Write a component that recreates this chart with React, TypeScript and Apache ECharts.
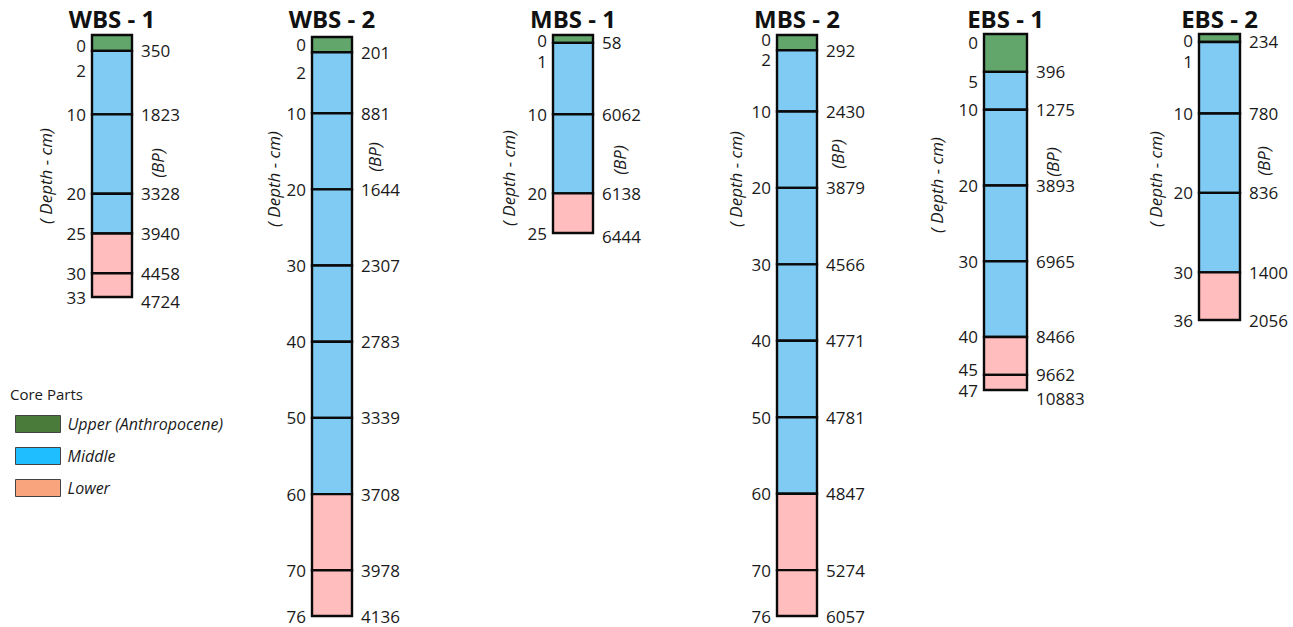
import React, { useEffect, useRef } from "react";
import * as echarts from "echarts";

// ---------------- DATA ----------------
const coreNames = ["WBS - 1", "WBS - 2", "MBS - 1", "MBS - 2", "EBS - 1", "EBS - 2"];
const partNames = ["Upper (Anthropocene)", "Middle", "Lower"];

const wbs1Depths = [0, 2, 10, 20, 25, 30, 33];
const wbs1Ages = [350, 1823, 3328, 3940, 4458, 4724];
const wbs1PartEnds = [2, 25];

const wbs2Depths = [0, 2, 10, 20, 30, 40, 50, 60, 70, 76];
const wbs2Ages = [201, 881, 1644, 2307, 2783, 3339, 3708, 3978, 4136];
const wbs2PartEnds = [2, 60];

const mbs1Depths = [0, 1, 10, 20, 25];
const mbs1Ages = [58, 6062, 6138, 6444];
const mbs1PartEnds = [1, 20];

const mbs2Depths = [0, 2, 10, 20, 30, 40, 50, 60, 70, 76];
const mbs2Ages = [292, 2430, 3879, 4566, 4771, 4781, 4847, 5274, 6057];
const mbs2PartEnds = [2, 60];

const ebs1Depths = [0, 5, 10, 20, 30, 40, 45, 47];
const ebs1Ages = [396, 1275, 3893, 6965, 8466, 9662, 10883];
const ebs1PartEnds = [5, 40];

const ebs2Depths = [0, 1, 10, 20, 30, 36];
const ebs2Ages = [234, 780, 836, 1400, 2056];
const ebs2PartEnds = [1, 30];

const depthAxisName = "( Depth - cm)";
const ageAxisName = "(BP)";
const legendTitle = "Core Parts";

// ---------------- LAYOUT / STYLE ----------------
const coreDepths = [wbs1Depths, wbs2Depths, mbs1Depths, mbs2Depths, ebs1Depths, ebs2Depths];
const coreAges = [wbs1Ages, wbs2Ages, mbs1Ages, mbs2Ages, ebs1Ages, ebs2Ages];
const corePartEnds = [wbs1PartEnds, wbs2PartEnds, mbs1PartEnds, mbs2PartEnds, ebs1PartEnds, ebs2PartEnds];

// left x, width, top y, bottom y of each column
const gridBoxes = [
  [92, 40, 35, 297],
  [312, 40, 37, 616],
  [553, 40, 35, 233],
  [777, 40, 35, 616],
  [984, 43, 34, 390],
  [1199, 41, 34, 320],
];
// vertical nudges (px, + = down) of individual depth labels (left) and age labels (right)
const leftNudges = [
  [10, 20],
  [7, 20],
  [5, 19],
  [4, 9],
  [8, 10, 0, 0, 0, 0, -5, 0],
  [6, 20],
];
const rightNudges = [
  [0, 0, 0, 0, 0, 4],
  [],
  [0, 0, 0, 3],
  [],
  [0, 0, 0, 0, 0, 0, 8],
  [],
];
const depthNamePos = [
  [45, 176], [273, 179], [508, 178], [735, 179], [936, 185], [1155, 179],
];
const ageNamePos = [
  [157, 163], [374, 157], [619, 160], [837, 154], [1052, 162], [1263, 161],
];

const barColors = ["#62A66B", "#80CBF4", "#FFBEBD"];
const legendColors = ["#4B7B3A", "#1FBFFF", "#F9A47C"];
const FONT = '"Open Sans", "Liberation Sans", sans-serif';
const TEXT = "#1a1a1a";

function nudgeRich(nudges: number[]) {
  const rich: any = {};
  nudges.forEach((s, i) => {
    if (!s) return;
    rich["n" + i] = {
      fontSize: 17,
      fontFamily: FONT,
      color: TEXT,
      padding: s > 0 ? [2 * s, 0, 0, 0] : [0, 0, -2 * s, 0],
    };
  });
  return rich;
}
function wrapNudge(nudges: number[], i: number, text: string) {
  return nudges[i] ? `{n${i}|${text}}` : text;
}

function buildOption() {
  const grid: any[] = [];
  const xAxis: any[] = [];
  const yAxis: any[] = [];
  const series: any[] = [];
  const title: any[] = [];
  const graphic: any[] = [];

  coreNames.forEach((name, c) => {
    const [left, width, top, bottom] = gridBoxes[c];
    const depths = coreDepths[c];
    const ages = coreAges[c];
    const [upEnd, midEnd] = corePartEnds[c];
    const maxDepth = depths[depths.length - 1];
    const ln = leftNudges[c];
    const rn = rightNudges[c];

    grid.push({ left, top, width, height: bottom - top, containLabel: false, outerBoundsMode: "none" });
    xAxis.push({ type: "value", gridIndex: c, min: 0, max: 1, show: false });

    const common = {
      type: "value",
      gridIndex: c,
      inverse: true,
      min: 0,
      max: maxDepth,
      axisLine: { show: false },
      axisTick: { show: false },
      splitLine: { show: false },
    };
    yAxis.push({
      ...common,
      position: "left",
      axisLabel: {
        customValues: depths,
        showMinLabel: true,
        showMaxLabel: true,
        hideOverlap: false,
        margin: 6,
        fontSize: 17,
        fontFamily: FONT,
        color: TEXT,
        formatter: (v: number) => {
          const i = depths.indexOf(v);
          return wrapNudge(ln, i, String(v));
        },
        rich: nudgeRich(ln),
      },
    });
    yAxis.push({
      ...common,
      position: "right",
      axisLabel: {
        customValues: depths.slice(1),
        showMinLabel: true,
        showMaxLabel: true,
        hideOverlap: false,
        margin: 9,
        fontSize: 17,
        fontFamily: FONT,
        color: TEXT,
        formatter: (v: number) => {
          const i = depths.indexOf(v);
          if (i <= 0) return "";
          return wrapNudge(rn, i - 1, String(ages[i - 1]));
        },
        rich: nudgeRich(rn),
      },
    });

    const segs: number[][][] = [[], [], []];
    for (let i = 0; i < depths.length - 1; i++) {
      const t = depths[i];
      const b = depths[i + 1];
      const p = b <= upEnd ? 0 : b <= midEnd ? 1 : 2;
      segs[p].push([0, t, b]);
    }
    partNames.forEach((pn, p) => {
      series.push({
        type: "custom",
        name: pn,
        xAxisIndex: c,
        yAxisIndex: 2 * c,
        itemStyle: { color: barColors[p] },
        encode: { x: 0, y: [1, 2] },
        data: segs[p],
        renderItem: (params: any, api: any) => {
          const p0 = api.coord([0, api.value(1)]);
          const p1 = api.coord([1, api.value(2)]);
          return {
            type: "rect",
            shape: { x: p0[0], y: p0[1], width: p1[0] - p0[0], height: p1[1] - p0[1] },
            style: { fill: barColors[p], stroke: "#0a0a0a", lineWidth: 2.4 },
          };
        },
      });
    });

    title.push({
      text: name,
      left: left + width / 2,
      top: 6,
      padding: 0,
      textAlign: "center",
      textStyle: { fontSize: 24, lineHeight: 24, fontWeight: "bold", fontFamily: FONT, color: "#111" },
    });

    graphic.push({
      type: "text",
      x: depthNamePos[c][0],
      y: depthNamePos[c][1],
      rotation: Math.PI / 2,
      style: {
        text: depthAxisName,
        fill: TEXT,
        font: `italic 17px ${FONT}`,
        textAlign: "center",
        textVerticalAlign: "middle",
        align: "center",
        verticalAlign: "middle",
      },
    });
    graphic.push({
      type: "text",
      x: ageNamePos[c][0],
      y: ageNamePos[c][1],
      rotation: Math.PI / 2,
      style: {
        text: ageAxisName,
        fill: TEXT,
        font: `italic 17px ${FONT}`,
        textAlign: "center",
        textVerticalAlign: "middle",
        align: "center",
        verticalAlign: "middle",
      },
    });
  });

  graphic.push({
    type: "text",
    left: 10,
    top: 386,
    style: { text: legendTitle, fill: TEXT, font: `15px ${FONT}` },
  });

  return {
    animation: false,
    backgroundColor: "#ffffff",
    title,
    grid,
    xAxis,
    yAxis,
    series,
    graphic,
    legend: {
      orient: "vertical",
      left: 10,
      top: 410,
      itemWidth: 45,
      itemHeight: 17,
      itemGap: 14,
      selectedMode: false,
      icon: "rect",
      textStyle: { fontSize: 16, fontStyle: "italic", fontFamily: FONT, color: TEXT, padding: [0, 0, 0, 2] },
      data: partNames.map((n, i) => ({
        name: n,
        itemStyle: { color: legendColors[i], borderColor: "#444", borderWidth: 1 },
      })),
    },
  };
}

export default function App() {
  const ref = useRef<HTMLDivElement>(null);
  useEffect(() => {
    document.body.style.margin = "0";
    if (!ref.current) return;
    const chart = echarts.init(ref.current, undefined, { renderer: "svg" });
    chart.setOption(buildOption() as any);
    return () => chart.dispose();
  }, []);
  return (
    <div
      ref={ref}
      style={{ position: "fixed", left: 0, top: 0, width: 1293, height: 627, background: "#fff" }}
    />
  );
}
